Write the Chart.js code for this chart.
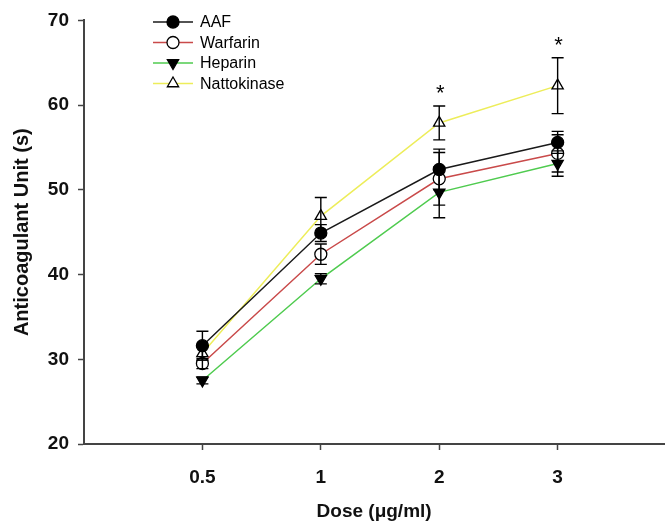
<!DOCTYPE html>
<html>
<head>
<meta charset="utf-8">
<script src="https://cdn.jsdelivr.net/npm/chart.js@4"></script>
<style>
  html, body { margin: 0; padding: 0; background: #fff; overflow: hidden; }
  #wrap { width: 672px; height: 525px; position: relative; }
</style>
</head>
<body>
<div id="wrap"><canvas id="chart"></canvas></div>
<script>
// dose levels (µg/ml) placed at evenly spaced x positions
const doseLabels = ['0.5', '1', '2', '3'];
const doseX = [1, 2, 3, 4];

// anticoagulant unit (s), mean and error per dose
const aaf = [31.6, 44.9, 52.4, 55.6];
const aafErr = [1.7, 1.0, 2.4, 1.3];
const warfarin = [29.5, 42.4, 51.3, 54.3];
const warfarinErr = [0.6, 1.2, 3.1, 2.2];
const heparin = [27.5, 39.5, 49.7, 53.1];
const heparinErr = [0.4, 0.6, 3.0, 1.5];
const natto = [30.7, 46.9, 57.9, 62.3];
const nattoErr = [0.8, 2.2, 2.0, 3.3];

// significance marks over the nattokinase series
const sigMarks = ['', '', '*', '*'];

const AXIS = '#444';
const FONT = "'Liberation Sans', Arial, sans-serif";

const series = [
  { label: 'AAF', vals: aaf, err: aafErr, color: '#1a1a1a', style: 'circle', fill: '#000', rot: 0, r: 6 },
  { label: 'Warfarin', vals: warfarin, err: warfarinErr, color: '#c94a4a', style: 'circle', fill: '#fff', rot: 0, r: 6 },
  { label: 'Heparin', vals: heparin, err: heparinErr, color: '#4fcb4f', style: 'triangle', fill: '#000', rot: 180, r: 6.5 },
  { label: 'Nattokinase', vals: natto, err: nattoErr, color: '#eded5a', style: 'triangle', fill: '#fff', rot: 0, r: 6.5 }
];

// vertical error bars with caps, drawn over the markers
const errorBars = {
  id: 'errorBars',
  afterDatasetsDraw(chart) {
    const { ctx, scales: { x, y } } = chart;
    ctx.save();
    ctx.strokeStyle = '#000';
    ctx.lineWidth = 1.4;
    series.forEach(s => {
      s.vals.forEach((v, i) => {
        const px = x.getPixelForValue(doseX[i]);
        const top = y.getPixelForValue(v + s.err[i]);
        const bot = y.getPixelForValue(v - s.err[i]);
        ctx.beginPath();
        ctx.moveTo(px, top); ctx.lineTo(px, bot);
        ctx.moveTo(px - 6, top); ctx.lineTo(px + 6, top);
        ctx.moveTo(px - 6, bot); ctx.lineTo(px + 6, bot);
        ctx.stroke();
      });
    });
    // asterisks above nattokinase bars
    ctx.fillStyle = '#000';
    ctx.font = '22px ' + FONT;
    ctx.textAlign = 'center';
    ctx.textBaseline = 'middle';
    sigMarks.forEach((m, i) => {
      if (!m) return;
      const px = x.getPixelForValue(doseX[i]);
      const py = y.getPixelForValue(natto[i] + nattoErr[i]) - 12;
      ctx.fillText(m, px + 1, py);
    });
    ctx.restore();
  }
};

// legend: short line with the marker on it, then the name
const lineLegend = {
  id: 'lineLegend',
  afterDraw(chart) {
    const { ctx } = chart;
    ctx.save();
    ctx.font = '16px ' + FONT;
    ctx.textBaseline = 'middle';
    ctx.textAlign = 'left';
    series.forEach((s, i) => {
      const yy = 22 + i * 20.5;
      ctx.strokeStyle = s.color;
      ctx.lineWidth = 1.5;
      ctx.beginPath();
      ctx.moveTo(153, yy); ctx.lineTo(193, yy);
      ctx.stroke();
      ctx.fillStyle = s.fill;
      ctx.strokeStyle = '#000';
      ctx.lineWidth = 1.3;
      Chart.helpers.drawPoint(ctx, { pointStyle: s.style, radius: s.r, rotation: s.rot, borderWidth: 1.3 }, 173, yy);
      ctx.fillStyle = '#000';
      ctx.fillText(s.label, 200, yy + 1);
    });
    ctx.restore();
  }
};

new Chart(document.getElementById('chart'), {
  type: 'line',
  data: {
    datasets: series.map(s => ({
      label: s.label,
      data: doseX.map((xv, i) => ({ x: xv, y: s.vals[i] })),
      borderColor: s.color,
      borderWidth: 1.5,
      pointStyle: s.style,
      pointRotation: s.rot,
      pointRadius: s.r,
      pointBackgroundColor: s.fill,
      pointBorderColor: '#000',
      pointBorderWidth: 1.3,
      tension: 0
    }))
  },
  options: {
    responsive: true,
    maintainAspectRatio: false,
    animation: false,
    layout: { padding: { top: 19, right: 0, left: 0, bottom: 0 } },
    plugins: { legend: { display: false }, tooltip: { enabled: false } },
    scales: {
      x: {
        type: 'linear',
        min: 0,
        max: 4.9,
        afterBuildTicks: axis => { axis.ticks = doseX.map(v => ({ value: v })); },
        afterFit: axis => { axis.height = 81; },
        grid: { display: true, drawOnChartArea: false, drawTicks: true, tickLength: 6, color: AXIS, tickWidth: 1.5 },
        border: { display: true, color: AXIS, width: 2 },
        ticks: {
          color: '#111', padding: 16, maxRotation: 0,
          font: { family: FONT, size: 19, weight: 'bold' },
          callback: v => doseLabels[doseX.indexOf(v)]
        },
        title: {
          display: true, text: 'Dose (\u03bcg/ml)', color: '#111',
          font: { family: FONT, size: 19, weight: 'bold' },
          padding: { top: 0, bottom: 2 }
        }
      },
      y: {
        min: 20,
        max: 70,
        afterFit: axis => { axis.width = 84; },
        grid: { display: true, drawOnChartArea: false, drawTicks: true, tickLength: 6, color: AXIS, tickWidth: 1.5 },
        border: { display: true, color: AXIS, width: 2 },
        ticks: {
          stepSize: 10, color: '#111', padding: 9,
          font: { family: FONT, size: 19, weight: 'bold' }
        },
        title: {
          display: true, text: 'Anticoagulant Unit (s)', color: '#111',
          font: { family: FONT, size: 20, weight: 'bold' },
          padding: { top: 10, bottom: 0 }
        }
      }
    }
  },
  plugins: [errorBars, lineLegend]
});
</script>
</body>
</html>
